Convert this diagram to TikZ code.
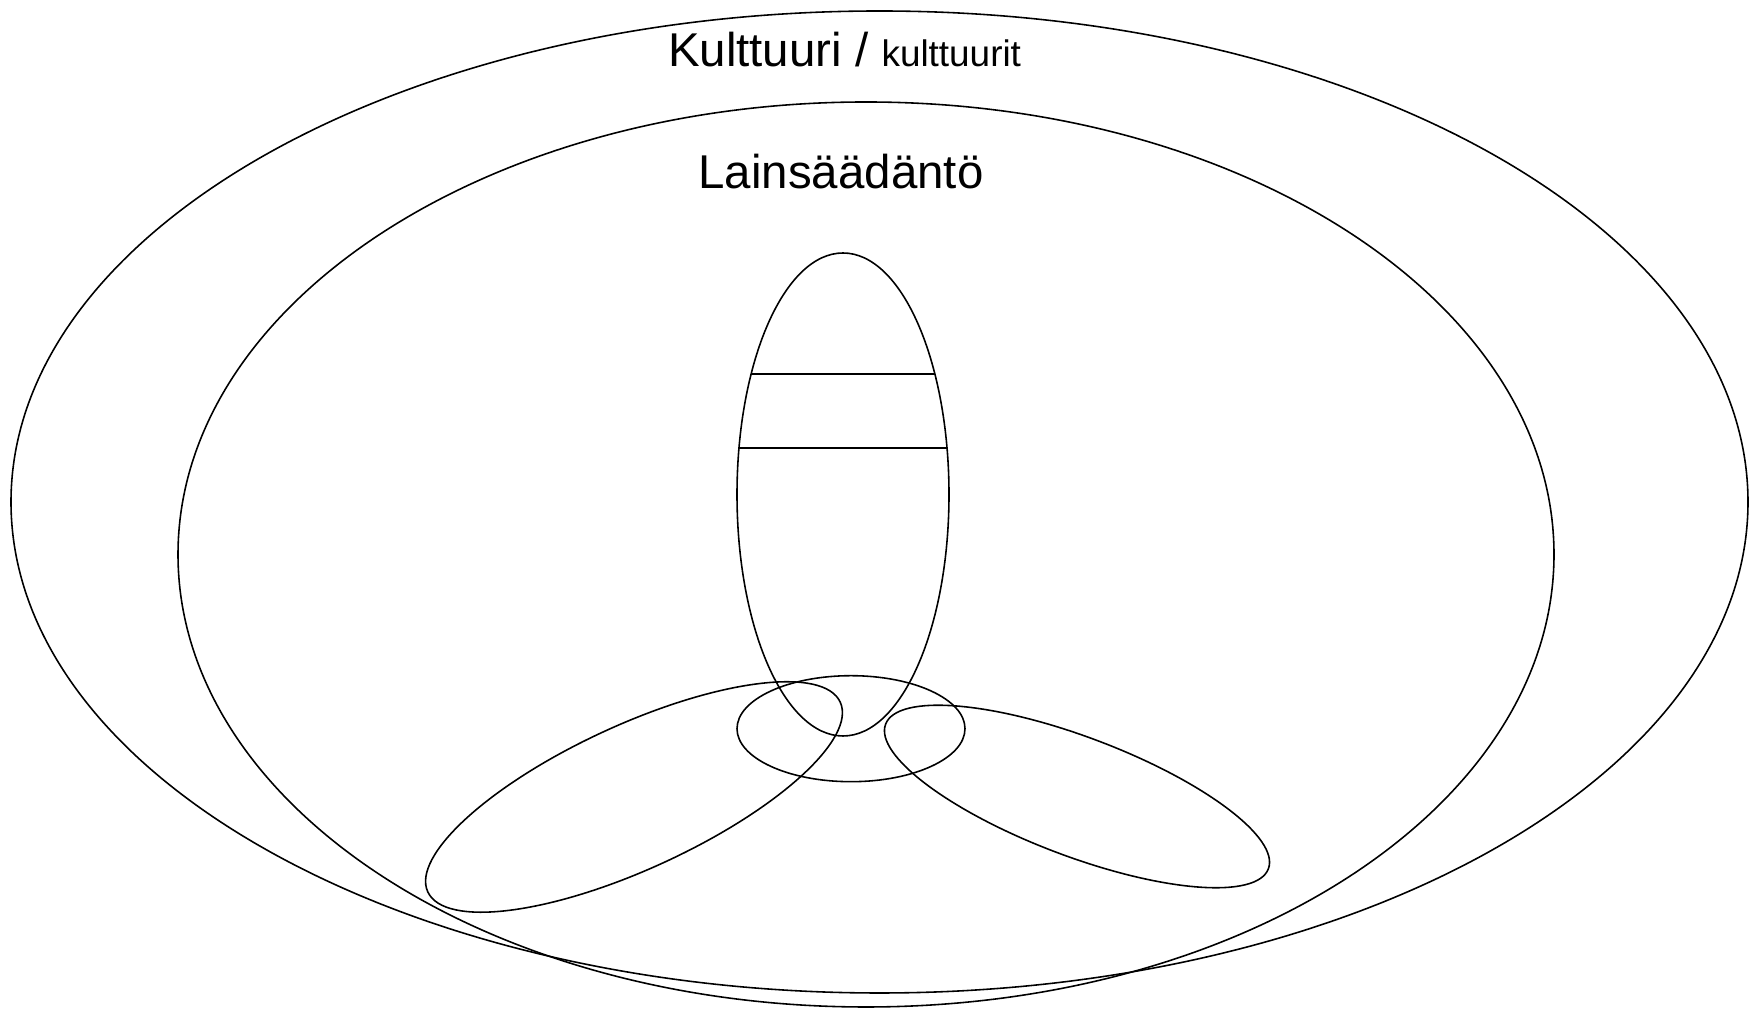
\documentclass[tikz,border=0pt]{standalone}
\usepackage{fontspec}
\setmainfont{Liberation Sans}
\begin{document}
\begin{tikzpicture}[x=0.02cm,y=0.02cm, every node/.style={inner sep=0pt}, ring/.style={line width=0.9pt}]
        \useasboundingbox (0,0) rectangle (1749,1010);
        
        % outer rings
        \draw[ring] (879.5,508) ellipse [x radius=868.5, y radius=491];
        \draw[ring] (866,455.5) ellipse [x radius=688, y radius=452.5];
        
        \node[anchor=base] (kulttuuri) at (844.5,943.3)
            {\fontsize{27}{30}\selectfont Kulttuuri / {\fontsize{21}{24}\selectfont kulttuurit}};
        \node[anchor=base] (laki) at (841,821.7)
            {\fontsize{27}{30}\selectfont Lainsäädäntö};
        
        % upright ellipse and its two bands
        \draw[ring] (843,515.5) ellipse [x radius=106, y radius=241.5];
        \foreach \y/\w in {636/91.9, 562/104}
            \draw[ring] (843-\w,\y) -- (843+\w,\y);
        
        % small middle ellipse and the two leaves
        \draw[ring] (851,281.3) ellipse [x radius=114, y radius=53];
        \draw[ring, rotate around={24.7:(634,213)}] (634,213) ellipse [x radius=227, y radius=72];
        \draw[ring, rotate around={-20.7:(1077,213.5)}] (1077,213.5) ellipse [x radius=204.6, y radius=59.5];
    \end{tikzpicture}
\end{document}
